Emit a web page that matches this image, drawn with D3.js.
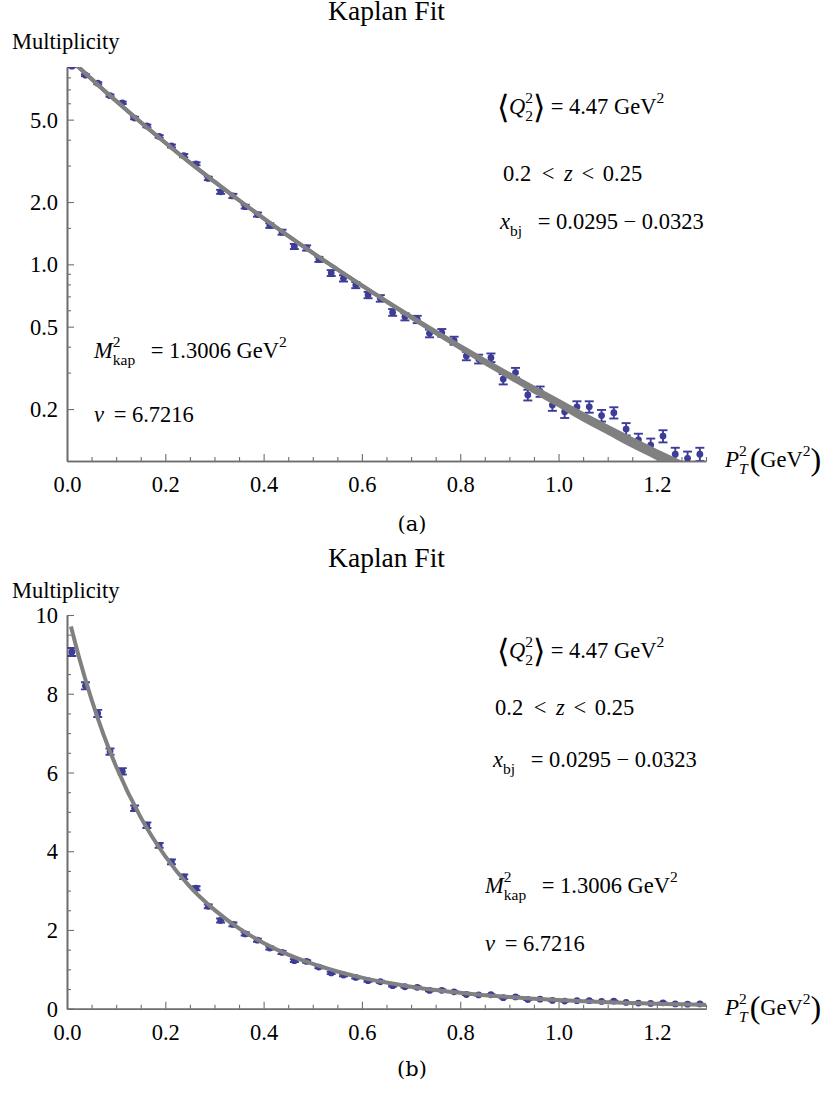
<!DOCTYPE html>
<html><head><meta charset="utf-8">
<script src="https://cdn.jsdelivr.net/npm/d3@7"></script>
<style>
body{margin:0;background:#fff}
text{font-family:"Liberation Serif","Times New Roman",serif;fill:#000}
</style>
</head><body>
<svg id="c" width="829" height="1093"></svg>
<script>
// ---------------- data ----------------
const ptX = [0.01,0.0375,0.0625,0.0875,0.1125,0.1375,0.1625,0.1875,0.2125,0.2375,
  0.2625,0.2875,0.3125,0.3375,0.3625,0.3875,0.4125,0.4375,0.4625,0.4875,
  0.5125,0.5375,0.5625,0.5875,0.6125,0.6375,0.6625,0.6875,0.7125,0.7375,
  0.7625,0.7875,0.8125,0.8375,0.8625,0.8875,0.9125,0.9375,0.9625,0.9875,
  1.0125,1.0375,1.0625,1.0875,1.1125,1.1375,1.1625,1.1875,1.2125,1.2375,
  1.2625,1.2875];
const multiplicity = [9.06,8.20,7.50,6.53,6.03,5.09,4.66,4.15,3.73,3.35,
  3.06,2.60,2.24,2.14,1.90,1.74,1.54,1.43,1.22,1.20,
  1.057,0.908,0.856,0.794,0.711,0.685,0.586,0.558,0.542,0.464,
  0.467,0.428,0.361,0.349,0.354,0.279,0.300,0.234,0.243,0.209,
  0.194,0.205,0.205,0.186,0.192,0.160,0.142,0.134,0.148,0.121,
  0.1156,0.121];
const multErr = [0.10,0.09,0.09,0.08,0.08,0.07,0.07,0.06,0.06,0.06,
  0.05,0.05,0.05,0.05,0.04,0.04,0.04,0.04,0.035,0.035,
  0.03,0.03,0.03,0.027,0.025,0.025,0.022,0.022,0.022,0.02,
  0.02,0.019,0.017,0.017,0.017,0.016,0.016,0.014,0.014,0.013,
  0.013,0.013,0.013,0.012,0.012,0.011,0.010,0.010,0.010,0.009,
  0.009,0.009];
const fitX = [0.008,0.025,0.05,0.075,0.1,0.15,0.2,0.25,0.3,0.35,0.4,0.45,0.5,0.55,0.6,
  0.65,0.7,0.75,0.8,0.85,0.9,0.95,1.0,1.05,1.1,1.15,1.2,1.25,1.3];
const fitHigh = [9.71,8.90,7.85,6.94,6.15,4.86,3.87,3.10,2.51,2.04,1.669,1.373,1.136,0.946,0.790,
  0.664,0.560,0.474,0.403,0.344,0.295,0.254,0.219,0.189,0.164,0.143,0.125,0.110,0.096];
const fitLow = [9.71,8.90,7.85,6.94,6.15,4.86,3.87,3.10,2.51,2.04,1.669,1.373,1.136,0.946,0.790,
  0.660,0.553,0.466,0.394,0.334,0.285,0.243,0.209,0.178,0.154,0.133,0.116,0.1005,0.0875];
const xTicks = [0,0.2,0.4,0.6,0.8,1.0,1.2];
const xTickLabels = ["0.0","0.2","0.4","0.6","0.8","1.0","1.2"];
const logTicks = [0.2,0.5,1,2,5];
const logTickLabels = ["0.2","0.5","1.0","2.0","5.0"];
const logMinorTicks = [0.3,0.4,0.6,0.7,0.8,0.9,1.5,3,4,6,7,8];
const linTicks = [0,2,4,6,8,10];
const linTickLabels = ["0","2","4","6","8","10"];

// ---------------- drawing ----------------
const svg = d3.select("#c");
const BLUE = "#3d3d99", GRAY = "#808080", AXIS = "#6e6e6e";
const FS = 22.5, SS = 15.5;

function rich(x, y, parts) {
  let cx = x;
  const g = svg.append("g");
  for (const p of parts) {
    if (p.stack) {
      const fs = p.fs || SS;
      const a = g.append("text").attr("x", cx).attr("y", y - 11).style("font-size", fs + "px").text(p.stack[0]);
      const b = g.append("text").attr("x", cx).attr("y", y + 7).style("font-size", fs + "px").text(p.stack[1]);
      if (p.itSub) b.style("font-style", "italic");
      cx += Math.max(a.node().getComputedTextLength(), b.node().getComputedTextLength()) + (p.gap || 0);
    } else {
      const t = g.append("text").attr("x", cx).attr("y", y + (p.dy || 0))
        .style("font-size", (p.fs || FS) + "px").style("white-space", "pre").text(p.t);
      if (p.it) t.style("font-style", "italic");
      cx += t.node().getComputedTextLength() + (p.gap || 0);
    }
  }
  return g;
}

function panel(cfg) {
  const x = d3.scaleLinear().domain([0, 1.3]).range([67, 706]);
  const y = cfg.y;
  const [top, bot] = [y.range()[1], y.range()[0]];
  const id = "clip" + cfg.key;
  svg.append("clipPath").attr("id", id).append("rect")
    .attr("x", 67).attr("y", top).attr("width", 706 - 67 + 2).attr("height", bot - top);

  // title & y label
  svg.append("text").attr("x", 386.5).attr("y", cfg.titleY).attr("text-anchor", "middle")
    .style("font-size", "27.5px").text("Kaplan Fit");
  svg.append("text").attr("x", 12).attr("y", cfg.ylabY).style("font-size", FS + "px").text("Multiplicity");

  // axes
  svg.append("g").attr("transform", `translate(0,${bot})`)
    .call(d3.axisBottom(x).tickValues(xTicks).tickFormat((d, i) => xTickLabels[i])
      .tickSize(-7).tickSizeOuter(0).tickPadding(15));
  svg.append("g").attr("transform", `translate(0,${bot})`)
    .call(d3.axisBottom(x).tickValues(d3.range(0.05, 1.31, 0.05).filter(v => Math.abs(v * 5 - Math.round(v * 5)) > 1e-6))
      .tickFormat("").tickSize(-4).tickSizeOuter(0));
  const ay = svg.append("g").attr("transform", `translate(67,0)`)
    .call(d3.axisLeft(y).tickValues(cfg.yTicks).tickFormat((d, i) => cfg.yLabels[i])
      .tickSize(-7).tickSizeOuter(0).tickPadding(9));
  svg.append("g").attr("transform", `translate(67,0)`)
    .call(d3.axisLeft(y).tickValues(cfg.yMinor).tickFormat("").tickSize(-4).tickSizeOuter(0));
  svg.selectAll(".domain").attr("stroke", AXIS).attr("stroke-width", 1.6);
  svg.selectAll(".tick line").attr("stroke", AXIS).attr("stroke-width", 1.1);
  svg.selectAll(".tick text").style("font-family", '"Liberation Serif",serif').style("font-size", FS + "px").attr("fill", "#000");
  ay.selectAll(".tick text").attr("dy", "0.34em");

  // data
  const g = svg.append("g").attr("clip-path", `url(#${id})`);
  const pts = ptX.map((px, i) => ({ x: px, v: multiplicity[i], e: multErr[i] }));
  const eb = g.selectAll("g.eb").data(pts).enter().append("g").attr("stroke", BLUE).attr("stroke-width", 1.9);
  eb.append("line").attr("x1", d => x(d.x)).attr("x2", d => x(d.x)).attr("y1", d => y(d.v + d.e)).attr("y2", d => y(d.v - d.e));
  eb.append("line").attr("x1", d => x(d.x) - 4.5).attr("x2", d => x(d.x) + 4.5).attr("y1", d => y(d.v + d.e)).attr("y2", d => y(d.v + d.e));
  eb.append("line").attr("x1", d => x(d.x) - 4.5).attr("x2", d => x(d.x) + 4.5).attr("y1", d => y(d.v - d.e)).attr("y2", d => y(d.v - d.e));
  g.selectAll("circle").data(pts).enter().append("circle")
    .attr("cx", d => x(d.x)).attr("cy", d => y(d.v)).attr("r", 3.4).attr("fill", BLUE);

  // fit
  const fit = fitX.map((fx, i) => ({ x: fx, hi: fitHigh[i], lo: fitLow[i] }));
  if (cfg.band) {
    g.append("path").datum(fit).attr("fill", GRAY)
      .attr("d", d3.area().x(d => x(d.x)).y0(d => y(d.lo)).y1(d => y(d.hi)).curve(d3.curveMonotoneX));
    g.append("path").datum(fit).attr("fill", "none").attr("stroke", GRAY).attr("stroke-width", 4)
      .attr("d", d3.line().x(d => x(d.x)).y(d => y(d.lo)).curve(d3.curveMonotoneX));
  }
  g.append("path").datum(fit).attr("fill", "none").attr("stroke", GRAY).attr("stroke-width", 4)
    .attr("d", d3.line().x(d => x(d.x)).y(d => y(d.hi)).curve(d3.curveMonotoneX));

  // x-axis label P_T^2 (GeV^2)
  rich(725, bot + 6, [
    { t: "P", it: true, fs: 23 },
    { stack: ["2", "T"], itSub: true, gap: 2 },
    { t: "(", fs: 32, dy: 3 },
    { t: "GeV" },
    { stack: ["2", ""] },
    { t: ")", fs: 32, dy: 3 }
  ]);

  // annotations
  const a = cfg.ann;
  rich(a.q[0], a.q[1], [
    { t: "\u27E8", fs: 32, dy: 4 },
    { t: "Q", it: true },
    { stack: ["2", "2"] },
    { t: "\u27E9", fs: 32, dy: 4 },
    { t: " = 4.47 GeV" },
    { stack: ["2", ""] }
  ]);
  rich(a.z[0], a.z[1], [{ t: "0.2 ", gap: 5 }, { t: "<", gap: 4 }, { t: " " }, { t: "z", it: true, gap: 3 },
    { t: " <", gap: 3 }, { t: " 0.25" }]);
  rich(a.xb[0], a.xb[1], [{ t: "x", it: true }, { stack: ["", "bj"], gap: 10 }, { t: " = 0.0295 \u2212 0.0323" }]);
  rich(a.m[0], a.m[1], [{ t: "M", it: true }, { stack: ["2", "kap"], gap: 10 }, { t: " = 1.3006 GeV" }, { stack: ["2", ""] }]);
  rich(a.nu[0], a.nu[1], [{ t: "\u03BD", it: true, gap: 4 }, { t: " = 6.7216" }]);

  svg.append("text").attr("x", 412).attr("y", cfg.capY).attr("text-anchor", "middle")
    .style("font-size", "21px").style("font-family", '"DejaVu Serif","Liberation Serif",serif').text(cfg.cap);
}

panel({
  key: "a",
  y: d3.scaleLog().domain([0.1122, 8.98]).range([461, 67]),
  yTicks: logTicks, yLabels: logTickLabels, yMinor: logMinorTicks,
  band: true, titleY: 20, ylabY: 49, capY: 531, cap: "(a)",
  ann: { q: [497, 114], z: [503, 181], xb: [500, 229], m: [94, 358], nu: [94, 422] }
});
panel({
  key: "b",
  y: d3.scaleLinear().domain([0, 10]).range([1008.7, 615]),
  yTicks: linTicks, yLabels: linTickLabels, yMinor: d3.range(0.5, 10, 0.5).filter(v => v % 2 !== 0),
  band: false, titleY: 567, ylabY: 598, capY: 1076, cap: "(b)",
  ann: { q: [497, 658], z: [495, 715], xb: [493, 767], m: [485, 893], nu: [485, 951] }
});
</script>
</body></html>
